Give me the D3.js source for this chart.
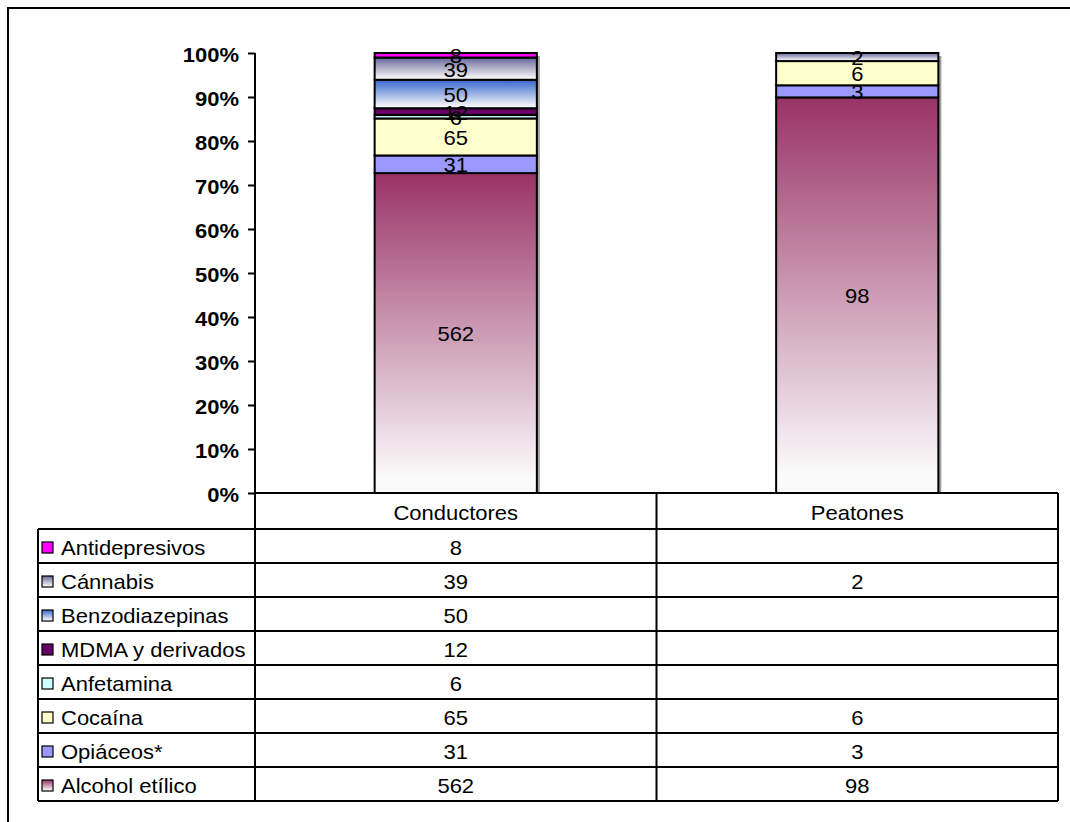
<!DOCTYPE html>
<html><head><meta charset="utf-8">
<script src="https://cdn.jsdelivr.net/npm/d3@7"></script>
<style>
body{margin:0;background:#fff}
text{font-family:Arial,"Liberation Sans",sans-serif;fill:#000}
</style>
</head><body>
<svg id="chart" width="1070" height="822"></svg>
<script>
// Categories (columns) and series (stack order, bottom to top)
const categories = ["Conductores", "Peatones"];
const seriesNames = ["Alcohol etílico", "Opiáceos*", "Cocaína", "Anfetamina",
                     "MDMA y derivados", "Benzodiazepinas", "Cánnabis", "Antidepresivos"];
const alcohol     = [562, 98];
const opiaceos    = [31, 3];
const cocaina     = [65, 6];
const anfetamina  = [6, null];
const mdma        = [12, null];
const benzo       = [50, null];
const cannabis    = [39, 2];
const antidep     = [8, null];
const seriesValues = [alcohol, opiaceos, cocaina, anfetamina, mdma, benzo, cannabis, antidep];
const yTickValues = [0, 0.1, 0.2, 0.3, 0.4, 0.5, 0.6, 0.7, 0.8, 0.9, 1];

// Fill per series: solid colour or a vertical gradient (top colour -> white)
const fills = [
  {grad: "#993366"}, {solid: "#9999FF"}, {solid: "#FFFFCC"}, {solid: "#CCFFFF"},
  {solid: "#660066"}, {grad: "#3366CC"}, {grad: "#666699"}, {solid: "#FF00FF"}
];

const FS = 20, SX = 1.1;   // font size and horizontal stretch of all texts

const svg = d3.select("#chart");
const defs = svg.append("defs");
fills.forEach((f, i) => {
  if (f.grad) {
    const g = defs.append("linearGradient").attr("id", "g" + i)
      .attr("x1", 0).attr("y1", 0).attr("x2", 0).attr("y2", 1);
    g.append("stop").attr("offset", "0%").attr("stop-color", f.grad);
    g.append("stop").attr("offset", "95%").attr("stop-color", "#fafafa");
    g.append("stop").attr("offset", "100%").attr("stop-color", "#fafafa");
  }
});
const fillOf = i => fills[i].grad ? `url(#g${i})` : fills[i].solid;

function label(parent, px, py, str, anchor, bold) {
  return parent.append("text")
    .attr("transform", `translate(${px},${py}) scale(${SX},1)`)
    .attr("text-anchor", anchor || "start")
    .attr("dominant-baseline", "central")
    .style("font-size", FS + "px")
    .style("font-weight", bold ? "bold" : "normal")
    .text(str);
}

// Outer frame
svg.append("rect").attr("x", 8).attr("y", 8).attr("width", 1100).attr("height", 900)
  .attr("fill", "none").attr("stroke", "#000").attr("stroke-width", 2);

// Layout
const plotLeft = 255, plotRight = 1058, yTop = 53, yBottom = 493;
const legendLeft = 38, rowH = 34;
const headerBottom = 529;

const x = d3.scaleBand().domain(categories).range([plotLeft, plotRight]).padding(0);
const y = d3.scaleLinear().domain([0, 1]).range([yBottom, yTop]);
const barW = x.bandwidth() * 0.404;

// Stacked, normalised to 100%
const rows = categories.map((c, ci) => {
  const o = {cat: c};
  seriesNames.forEach((s, si) => o[s] = seriesValues[si][ci] || 0);
  return o;
});
const stacked = d3.stack().keys(seriesNames).offset(d3.stackOffsetExpand)(rows);

// Bar shadows
categories.forEach(c => {
  const bx = x(c) + (x.bandwidth() - barW) / 2;
  svg.append("rect").attr("x", bx + 3).attr("y", y(1) + 3)
    .attr("width", barW).attr("height", y(0) - y(1) - 3).attr("fill", "#a0a0a0");
});

// Segments
stacked.forEach((layer, si) => {
  svg.append("g").selectAll("rect").data(layer.filter(d => d[1] - d[0] > 0)).join("rect")
    .attr("x", d => x(d.data.cat) + (x.bandwidth() - barW) / 2)
    .attr("y", d => y(d[1]))
    .attr("width", barW)
    .attr("height", d => y(d[0]) - y(d[1]))
    .attr("fill", fillOf(si))
    .attr("stroke", "#000").attr("stroke-width", 2);
});

// Value labels inside segments
const valG = svg.append("g");
stacked.forEach(layer => {
  layer.filter(d => d[1] - d[0] > 0).forEach(d => {
    label(valG, x(d.data.cat) + x.bandwidth() / 2, (y(d[0]) + y(d[1])) / 2 + 1,
          d.data[layer.key], "middle");
  });
});

// Y axis: ticks from the scale, labels stretched like the rest of the text
const yAxis = svg.append("g").attr("transform", `translate(${plotLeft},0)`)
  .call(d3.axisLeft(y).tickValues(yTickValues).tickFormat(d3.format(".0%")).tickSize(7));
yAxis.select(".domain").remove();
yAxis.selectAll(".tick line").attr("stroke", "#000").attr("stroke-width", 2);
yAxis.selectAll(".tick text").remove();
yAxis.selectAll(".tick").each(function(v) {
  label(d3.select(this), -16, 1, d3.format(".0%")(v), "end", true);
});
svg.append("line").attr("x1", plotLeft).attr("x2", plotLeft).attr("y1", yTop).attr("y2", headerBottom + rowH * 8)
  .attr("stroke", "#000").attr("stroke-width", 2);

// Data table
const tableBottom = headerBottom + rowH * 8;
const tbl = svg.append("g").attr("stroke", "#000").attr("stroke-width", 2);
tbl.append("line").attr("x1", plotLeft).attr("x2", plotRight).attr("y1", yBottom).attr("y2", yBottom);
d3.range(9).forEach(i => {
  tbl.append("line").attr("x1", legendLeft).attr("x2", plotRight)
    .attr("y1", headerBottom + i * rowH).attr("y2", headerBottom + i * rowH);
});
tbl.append("line").attr("x1", legendLeft).attr("x2", legendLeft).attr("y1", headerBottom).attr("y2", tableBottom);
tbl.append("line").attr("x1", plotRight).attr("x2", plotRight).attr("y1", yBottom).attr("y2", tableBottom);
tbl.append("line").attr("x1", x(categories[1])).attr("x2", x(categories[1])).attr("y1", yBottom).attr("y2", tableBottom);

// Header labels
const txt = svg.append("g");
categories.forEach(c => label(txt, x(c) + x.bandwidth() / 2, (yBottom + headerBottom) / 2 + 2, c, "middle"));

// Table rows, top row = last series
const tableOrder = d3.range(seriesNames.length).reverse();
tableOrder.forEach((si, ri) => {
  const cy = headerBottom + ri * rowH + rowH / 2 + 2;
  svg.append("rect").attr("x", 42).attr("y", cy - 6).attr("width", 11).attr("height", 11)
    .attr("fill", fillOf(si)).attr("stroke", "#000").attr("stroke-width", 1.2);
  label(txt, 61, cy, seriesNames[si], "start");
  categories.forEach((c, ci) => {
    const v = seriesValues[si][ci];
    if (v != null) label(txt, x(c) + x.bandwidth() / 2, cy, v, "middle");
  });
});
</script>
</body></html>
